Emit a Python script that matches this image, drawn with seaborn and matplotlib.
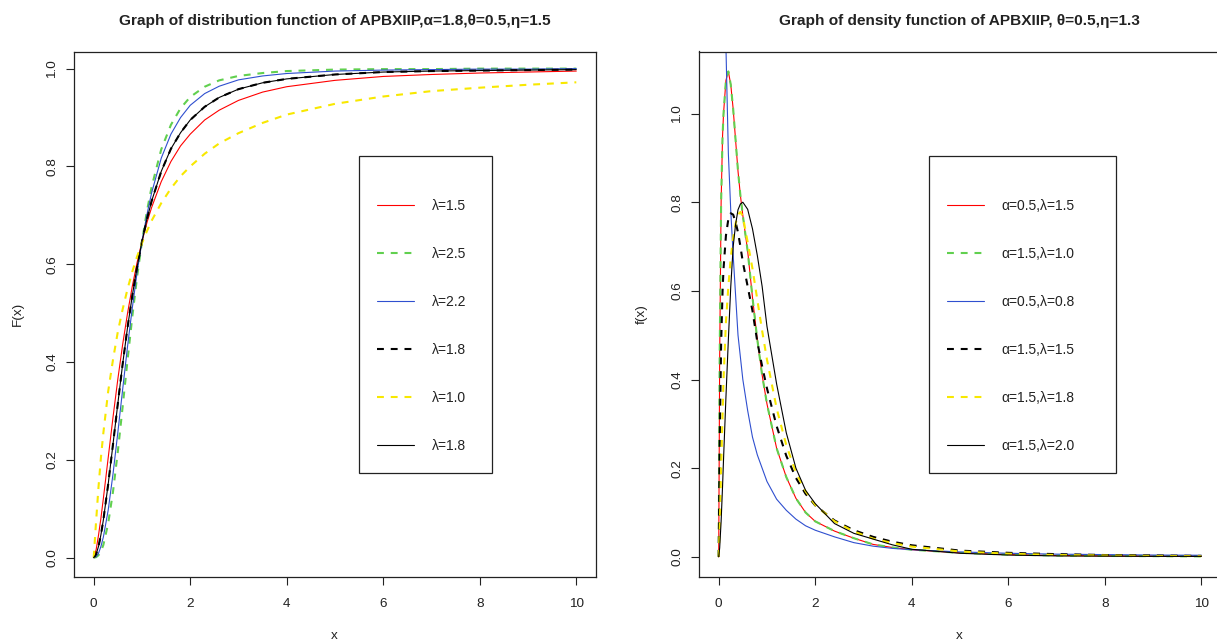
import numpy as np
import pandas as pd
import matplotlib
matplotlib.use("Agg")
import matplotlib.pyplot as plt
import seaborn as sns
from matplotlib.patches import Rectangle
from matplotlib.ticker import FormatStrFormatter

# ---------------- data: distribution functions (left panel) ----------------
x_cdf = [0, 0.05, 0.1, 0.15, 0.2, 0.3, 0.4, 0.5, 0.6, 0.7, 0.8, 0.9, 1.0, 1.1, 1.2,
         1.4, 1.6, 1.8, 2.0, 2.3, 2.6, 3.0, 3.5, 4, 5, 6, 7, 8, 9, 10]
cdf_lam15 = [0, 0.016, 0.046, 0.081, 0.121, 0.204, 0.287, 0.365, 0.436, 0.499, 0.555, 0.604,
             0.646, 0.684, 0.716, 0.769, 0.810, 0.842, 0.866, 0.895, 0.915, 0.935, 0.952,
             0.963, 0.976, 0.984, 0.988, 0.991, 0.993, 0.995]
cdf_lam25 = [0, 0.001, 0.005, 0.013, 0.026, 0.070, 0.135, 0.217, 0.309, 0.403, 0.493, 0.575,
             0.646, 0.707, 0.758, 0.835, 0.885, 0.919, 0.942, 0.963, 0.976, 0.985, 0.991,
             0.995, 0.998, 0.999, 0.999, 1.0, 1.0, 1.0]
cdf_lam22 = [0, 0.002, 0.009, 0.023, 0.042, 0.097, 0.171, 0.256, 0.344, 0.431, 0.511, 0.584,
             0.646, 0.700, 0.746, 0.817, 0.866, 0.900, 0.925, 0.949, 0.964, 0.977, 0.985,
             0.990, 0.995, 0.997, 0.998, 0.999, 0.999, 1.0]
cdf_lam18a = [0, 0.007, 0.023, 0.047, 0.077, 0.150, 0.232, 0.315, 0.396, 0.470, 0.536, 0.595,
              0.646, 0.691, 0.729, 0.790, 0.836, 0.869, 0.895, 0.922, 0.941, 0.958, 0.971,
              0.979, 0.988, 0.993, 0.995, 0.996, 0.997, 0.998]
cdf_lam10 = [0, 0.075, 0.145, 0.205, 0.255, 0.340, 0.405, 0.462, 0.508, 0.549, 0.585, 0.616,
             0.643, 0.667, 0.689, 0.725, 0.755, 0.780, 0.800, 0.826, 0.847, 0.868, 0.889,
             0.906, 0.928, 0.943, 0.954, 0.961, 0.967, 0.972]
cdf_lam18b = [0, 0.007, 0.023, 0.047, 0.077, 0.150, 0.232, 0.315, 0.396, 0.470, 0.536, 0.595,
              0.646, 0.691, 0.729, 0.790, 0.836, 0.869, 0.895, 0.922, 0.941, 0.958, 0.971,
              0.979, 0.988, 0.993, 0.995, 0.996, 0.997, 0.998]
cdf_labels = ["λ=1.5", "λ=2.5", "λ=2.2", "λ=1.8", "λ=1.0", "λ=1.8"]

# ---------------- data: density functions (right panel) ----------------
x_pdf = [0, 0.02, 0.05, 0.08, 0.1, 0.15, 0.2, 0.25, 0.3, 0.35, 0.4, 0.45, 0.5, 0.6, 0.7,
         0.8, 0.9, 1.0, 1.2, 1.4, 1.6, 1.8, 2.0, 2.4, 2.8, 3.2, 3.6, 4, 5, 6, 7, 8, 9, 10]
pdf_a05_l15 = [0, 0.45, 0.80, 0.95, 1.00, 1.075, 1.095, 1.065, 1.01, 0.94, 0.87, 0.815, 0.77,
               0.69, 0.585, 0.49, 0.41, 0.345, 0.245, 0.18, 0.132, 0.10, 0.08, 0.058, 0.042,
               0.028, 0.021, 0.016, 0.009, 0.005, 0.003, 0.002, 0.0015, 0.001]
pdf_a15_l10 = [0, 0.45, 0.80, 0.95, 1.00, 1.075, 1.095, 1.065, 1.01, 0.94, 0.87, 0.815, 0.77,
               0.69, 0.585, 0.49, 0.41, 0.345, 0.245, 0.18, 0.132, 0.10, 0.08, 0.058, 0.042,
               0.028, 0.021, 0.016, 0.009, 0.005, 0.003, 0.002, 0.0015, 0.001]
pdf_a05_l08 = [np.nan, 3.0, 2.0, 1.6, 1.42, 1.15, 0.91, 0.78, 0.68, 0.59, 0.50, 0.45, 0.40,
               0.33, 0.27, 0.23, 0.20, 0.17, 0.13, 0.105, 0.085, 0.07, 0.06, 0.045, 0.032,
               0.024, 0.019, 0.016, 0.011, 0.008, 0.006, 0.005, 0.004, 0.0035]
pdf_a15_l15 = [0, 0.25, 0.48, 0.60, 0.65, 0.725, 0.762, 0.775, 0.772, 0.755, 0.732, 0.70, 0.665,
               0.61, 0.555, 0.485, 0.43, 0.38, 0.295, 0.228, 0.178, 0.142, 0.116, 0.082, 0.06,
               0.045, 0.034, 0.026, 0.014, 0.009, 0.006, 0.004, 0.003, 0.002]
pdf_a15_l18 = [0, 0.06, 0.20, 0.32, 0.40, 0.53, 0.61, 0.675, 0.72, 0.752, 0.772, 0.778, 0.768,
               0.71, 0.65, 0.58, 0.51, 0.445, 0.335, 0.252, 0.19, 0.148, 0.117, 0.08, 0.057,
               0.041, 0.031, 0.023, 0.012, 0.007, 0.004, 0.003, 0.002, 0.0015]
pdf_a15_l20 = [0, 0.02, 0.08, 0.16, 0.22, 0.36, 0.49, 0.61, 0.70, 0.75, 0.783, 0.796, 0.80,
               0.784, 0.74, 0.68, 0.61, 0.52, 0.39, 0.28, 0.20, 0.15, 0.12, 0.075, 0.053,
               0.04, 0.027, 0.017, 0.008, 0.004, 0.002, 0.0015, 0.001, 0.001]
pdf_labels = ["α=0.5,λ=1.5", "α=1.5,λ=1.0", "α=0.5,λ=0.8",
              "α=1.5,λ=1.5", "α=1.5,λ=1.8", "α=1.5,λ=2.0"]

title_left = "Graph of distribution function of APBXIIP,α=1.8,θ=0.5,η=1.5"
title_right = "Graph of density function of APBXIIP, θ=0.5,η=1.3"

# ---------------- styles ----------------
RED, GREEN, BLUE, BLACK, YELLOW = "#FF0000", "#61D04F", "#2F4FCF", "#000000", "#F8E800"
styles = [(RED, False), (GREEN, True), (BLUE, False), (BLACK, True), (YELLOW, True), (BLACK, False)]
THIN, THICK = 0.8, 1.5
DASH = (3.3, 3.3)
TXT = '#222222'

sns.set_theme(style="ticks")
plt.rcParams['font.family'] = ['Liberation Sans', 'DejaVu Sans']
plt.rcParams['axes.edgecolor'] = TXT
plt.rcParams['axes.linewidth'] = 0.9

W, H = 1217, 644
fig = plt.figure(figsize=(W / 100, H / 100), dpi=100)

def fig_rect(left, top, right, bottom):
    return [left / W, 1 - bottom / H, (right - left) / W, (bottom - top) / H]

ax1 = fig.add_axes(fig_rect(74.4, 51.5, 595.6, 577.2))
ax2 = fig.add_axes(fig_rect(699.4, 51.5, 1220.6, 577.2))

def draw(ax, xs, series, labels):
    handles = []
    for ys, (col, dashed), lab in zip(series, styles, labels):
        df = pd.DataFrame({"x": xs, "y": ys}).dropna()
        sns.lineplot(data=df, x="x", y="y", ax=ax, color=col, estimator=None, sort=False,
                     linewidth=THICK if dashed else THIN, label=lab, legend=False)
        ln = ax.lines[-1]
        if dashed:
            ln.set_dashes(DASH)
        handles.append(ln)
    return handles

h1 = draw(ax1, x_cdf, [cdf_lam15, cdf_lam25, cdf_lam22, cdf_lam18a, cdf_lam10, cdf_lam18b], cdf_labels)
h2 = draw(ax2, x_pdf, [pdf_a05_l15, pdf_a15_l10, pdf_a05_l08, pdf_a15_l15, pdf_a15_l18, pdf_a15_l20], pdf_labels)

for ax in (ax1, ax2):
    ax.set_xlim(-0.4, 10.4)
    ax.set_xticks([0, 2, 4, 6, 8, 10])
    ax.set_yticks([0, 0.2, 0.4, 0.6, 0.8, 1.0])
    ax.yaxis.set_major_formatter(FormatStrFormatter('%.1f'))
    ax.set_xlabel("")
    ax.set_ylabel("")
    ax.tick_params(axis='both', direction='out', length=5.5, width=0.8, color=TXT,
                   labelsize=9.7, labelcolor=TXT)
    ax.tick_params(axis='x', pad=9.5)
    ax.tick_params(axis='y', pad=6)
    for lab in ax.get_yticklabels():
        lab.set_rotation(90)
        lab.set_va('center')
    for s in ax.spines.values():
        s.set_visible(True)
ax1.set_ylim(-0.04, 1.035)
ax2.set_ylim(-0.046, 1.14)

# titles and axis labels
fig.text(334.5 / W, 1 - 20.5 / H, title_left, ha='center', va='center', fontsize=11.1,
         fontweight='bold', color=TXT)
fig.text(959.5 / W, 1 - 20.5 / H, title_right, ha='center', va='center', fontsize=11.1,
         fontweight='bold', color=TXT)
fig.text(334.5 / W, 1 - 636 / H, "x", ha='center', va='center', fontsize=9.7, color=TXT)
fig.text(959.5 / W, 1 - 636 / H, "x", ha='center', va='center', fontsize=9.7, color=TXT)
fig.text(18 / W, 1 - 314 / H, "F(x)", ha='center', va='center', rotation=90, fontsize=9.7, color=TXT)
fig.text(642 / W, 1 - 314 / H, "f(x)", ha='center', va='center', rotation=90, fontsize=9.7, color=TXT)

# legends
def legend(ax, handles, labels, left, top, right, bottom, anchor_x, anchor_y):
    fig.patches.append(Rectangle((left / W, 1 - bottom / H), (right - left) / W, (bottom - top) / H,
                                 transform=fig.transFigure, fill=False, edgecolor=TXT,
                                 linewidth=0.9))
    ax.legend(handles, labels, loc='upper left', bbox_to_anchor=(anchor_x / W, 1 - anchor_y / H),
              bbox_transform=fig.transFigure, frameon=False, fontsize=10, borderpad=0,
              borderaxespad=0, handlelength=2.65, handletextpad=1.25, labelspacing=2.45,
              labelcolor=TXT)

legend(ax1, h1, cdf_labels, 359.3, 156, 491.7, 472.7, 377.3, 199.0)
legend(ax2, h2, pdf_labels, 929.3, 156, 1116, 472.7, 947.3, 199.0)

fig.savefig("out.png", dpi=100)
